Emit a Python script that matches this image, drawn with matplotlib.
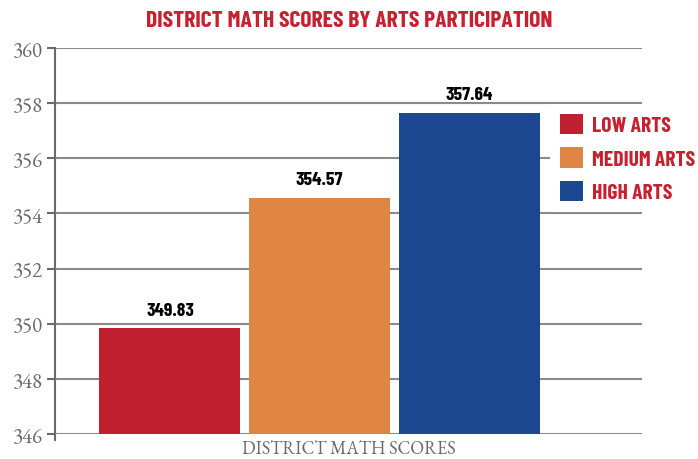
import matplotlib
matplotlib.use("Agg")
import matplotlib.pyplot as plt

categories = ["LOW ARTS", "MEDIUM ARTS", "HIGH ARTS"]
scores = [349.83, 354.57, 357.64]
value_labels = ["349.83", "354.57", "357.64"]
yticks = [346, 348, 350, 352, 354, 356, 358, 360]
xlabel = "DISTRICT MATH SCORES"
title = "DISTRICT MATH SCORES BY ARTS PARTICIPATION"

colors = ["#C01F2F", "#DE8544", "#1C4891"]
grid_c = "#8a8a8a"
tick_c = "#6a6a6a"
red_txt = "#C8202F"
narrow = ["Barlow Condensed", "DejaVu Sans"]
serif = ["EB Garamond", "Liberation Serif", "DejaVu Serif"]

fig = plt.figure(figsize=(6.98, 4.60), dpi=100)
ax = fig.add_axes([55/698, 1-435/460, (642-55)/698, (435-49)/460])

xpos = [-1, 0, 1]
bars = ax.bar(xpos, [s - 346 for s in scores], bottom=346, width=0.943,
              color=colors, zorder=3, label=categories)
ax.set_xlim(-1.769, 2.157)
ax.set_ylim(346, 360)
ax.set_yticks(yticks)
ax.set_yticklabels([str(t) for t in yticks], fontfamily=serif, fontsize=15, color=tick_c)
ax.yaxis.grid(True, color=grid_c, linewidth=1.5, zorder=1)
ax.set_axisbelow(True)
for s in ["top", "right", "bottom"]:
    ax.spines[s].set_visible(False)
ax.spines["left"].set_color(tick_c)
ax.spines["left"].set_linewidth(1.5)
ax.tick_params(axis="y", length=5.5, width=1.5, color=tick_c, pad=3)
ax.set_xticks([-1.769])
ax.set_xticklabels([""])
ax.tick_params(axis="x", length=5, width=1.5, color=tick_c, pad=0)

for x, s, lab in zip(xpos, scores, value_labels):
    ax.annotate(lab, (x, s), xytext=(0, 7), textcoords="offset points",
                ha="center", va="bottom", fontfamily=narrow, fontweight="bold",
                fontsize=14, color="black")

ax.set_xlabel(xlabel, fontfamily=serif, fontsize=13, color=tick_c, labelpad=-1.5)

leg = ax.legend(handles=bars.patches, labels=categories, loc="upper left",
                bbox_to_anchor=(0.843, 0.855), frameon=True, facecolor="white",
                edgecolor="none", framealpha=1, fancybox=False,
                handlelength=1.1, handleheight=1.1, handletextpad=0.43,
                labelspacing=0.55, borderaxespad=0, borderpad=0.45,
                prop={"family": narrow, "weight": "bold", "size": 15.5})
for t in leg.get_texts():
    t.set_color(red_txt)

fig.text(349/698, 1-21/460, title, ha="center", va="center", fontfamily=narrow,
         fontweight="bold", fontsize=17, color=red_txt)

fig.savefig("out.png", dpi=100, facecolor="white")
